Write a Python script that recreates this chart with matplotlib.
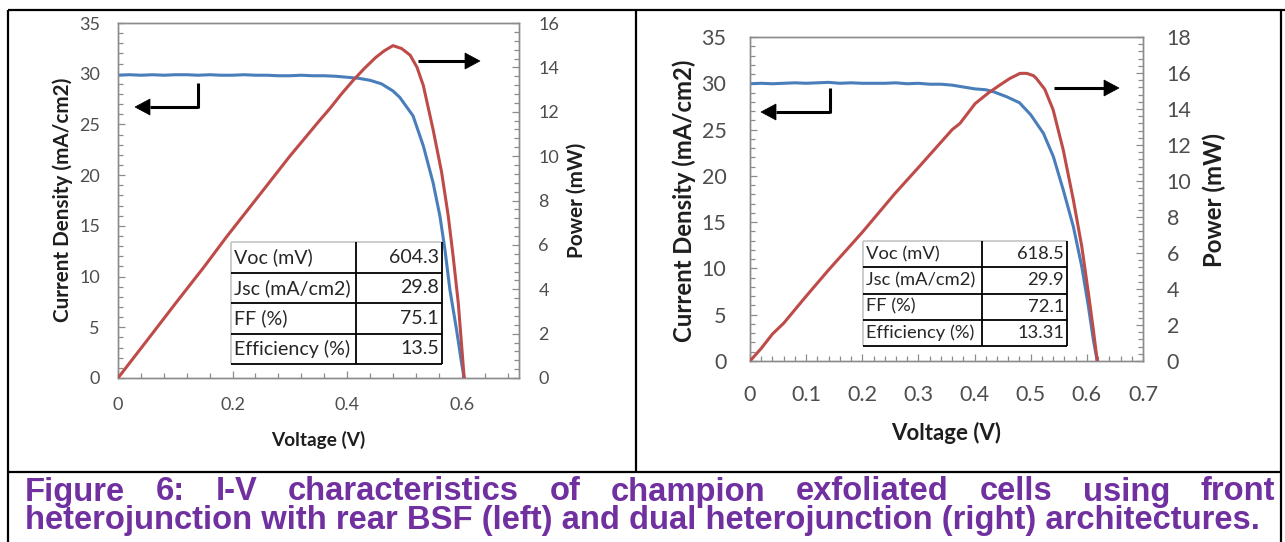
import matplotlib
matplotlib.use('Agg')
import matplotlib.pyplot as plt
from matplotlib import font_manager
from matplotlib.lines import Line2D
from matplotlib.patches import Polygon, Rectangle
from matplotlib.ticker import MultipleLocator, FuncFormatter

# ---------------- data ----------------
# Left chart: front heterojunction with rear BSF
left_v_j = [0, 0.02, 0.04, 0.06, 0.08, 0.10, 0.12, 0.14, 0.16, 0.18, 0.20, 0.22, 0.24,
            0.26, 0.28, 0.30, 0.32, 0.34, 0.36, 0.38, 0.40, 0.42, 0.44, 0.46, 0.48,
            0.492, 0.515, 0.533, 0.55, 0.562, 0.5707, 0.5794, 0.591, 0.5998, 0.6043]
left_j = [29.85, 29.9, 29.85, 29.9, 29.85, 29.9, 29.9, 29.85, 29.9, 29.85, 29.85, 29.9, 29.85,
          29.85, 29.8, 29.8, 29.85, 29.8, 29.8, 29.75, 29.65, 29.55, 29.35, 29.0, 28.3,
          27.66, 25.85, 22.88, 19.26, 15.95, 12.66, 8.7, 4.75, 1.45, 0.0]
left_v_p = [0, 0.05, 0.10, 0.15, 0.19, 0.25, 0.30, 0.35, 0.37, 0.39, 0.41, 0.43, 0.45,
            0.465, 0.48, 0.495, 0.51, 0.522, 0.533, 0.55, 0.565, 0.5765, 0.585, 0.594, 0.6043]
left_p = [0, 1.67, 3.35, 5.0, 6.38, 8.35, 10.0, 11.55, 12.15, 12.8, 13.4, 13.95, 14.45,
          14.75, 14.98, 14.85, 14.55, 14.0, 13.18, 11.2, 9.26, 7.3, 5.49, 3.38, 0.0]
left_table_labels = ["Voc (mV)", "Jsc (mA/cm2)", "FF (%)", "Efficiency (%)"]
left_table_values = ["604.3", "29.8", "75.1", "13.5"]

# Right chart: dual heterojunction
right_v_j = [0, 0.02, 0.04, 0.06, 0.08, 0.10, 0.12, 0.14, 0.16, 0.18, 0.20, 0.22, 0.24,
             0.26, 0.28, 0.30, 0.32, 0.34, 0.36, 0.38, 0.40, 0.42, 0.433, 0.457, 0.48,
             0.50, 0.5226, 0.5404, 0.558, 0.576, 0.591, 0.6028, 0.6116, 0.6185]
right_j = [29.95, 30.0, 29.95, 30.0, 30.05, 30.0, 30.05, 30.1, 30.0, 30.05, 30.0, 30.0, 30.0,
           30.05, 29.95, 30.0, 29.9, 29.9, 29.8, 29.6, 29.4, 29.3, 29.1, 28.55, 27.9,
           26.6, 24.6, 22.07, 18.47, 14.5, 10.19, 5.87, 2.27, 0.0]
right_v_p = [0, 0.02, 0.04, 0.06, 0.08, 0.10, 0.14, 0.20, 0.258, 0.30, 0.33, 0.36, 0.374,
             0.401, 0.425, 0.445, 0.463, 0.481, 0.493, 0.505, 0.51, 0.525, 0.54, 0.558,
             0.576, 0.591, 0.6028, 0.6116, 0.6185]
right_p = [0, 0.7, 1.5, 2.1, 2.85, 3.6, 5.06, 7.15, 9.3, 10.75, 11.8, 12.85, 13.2,
           14.3, 14.9, 15.33, 15.7, 15.98, 15.98, 15.85, 15.7, 15.1, 13.95, 11.72,
           8.94, 6.35, 3.76, 1.72, 0.0]
right_table_labels = ["Voc (mV)", "Jsc (mA/cm2)", "FF (%)", "Efficiency (%)"]
right_table_values = ["618.5", "29.9", "72.1", "13.31"]

x_label = "Voltage (V)"
y_label = "Current Density (mA/cm2)"
y2_label = "Power (mW)"
caption_1 = "Figure 6: I-V characteristics of champion exfoliated cells using front"
caption_2 = "heterojunction with rear BSF (left) and dual heterojunction (right) architectures."

# ---------------- styling ----------------
BLUE = "#4A7EBB"
RED = "#BE4B48"
FRAME = "#8C8C8C"
TICKTXT = "#4D4D4D"
TXT = "#1E1E1E"
PURPLE = "#7030A0"
FONT = "Lato"
_names = {f.name for f in font_manager.fontManager.ttflist}
CAP_FONT = "Liberation Sans Narrow" if "Liberation Sans Narrow" in _names else "Liberation Sans"

W, H = 1285, 542
fig = plt.figure(figsize=(W / 100, H / 100), dpi=100)
renderer = fig.canvas.get_renderer()


def fx(x):
    return x / W


def fy(y):
    return 1 - y / H


def text_width(s, size, **kw):
    t = fig.text(0, 0, s, fontsize=size, **kw)
    w = t.get_window_extent(renderer).width
    t.remove()
    return w


def fit_size(s, target, **kw):
    return 20 * target / text_width(s, 20, **kw)


def add_axes_px(x0, y0, x1, y1):
    return fig.add_axes([fx(x0), fy(y1), (x1 - x0) / W, (y1 - y0) / H])


def fmt(v, pos):
    return "%g" % round(v, 3)


def draw_chart(box, vj, jj, vp, pp, pmax, xmajor, xminor, tick_fs, pad_l, pad_b, pad_r):
    ax = add_axes_px(*box)
    ax.plot(vj, jj, color=BLUE, lw=2.2, solid_joinstyle='round', zorder=3)
    ax.set_xlim(0, 0.7)
    ax.set_ylim(0, 35)
    ax2 = ax.twinx()
    ax2.plot(vp, pp, color=RED, lw=2.2, solid_joinstyle='round', zorder=3)
    ax2.set_ylim(0, pmax)
    ax.xaxis.set_major_locator(MultipleLocator(xmajor))
    ax.xaxis.set_minor_locator(MultipleLocator(xminor))
    ax.yaxis.set_major_locator(MultipleLocator(5))
    ax.yaxis.set_minor_locator(MultipleLocator(1))
    ax2.yaxis.set_major_locator(MultipleLocator(2))
    ax2.yaxis.set_minor_locator(MultipleLocator(0.4))
    ax.xaxis.set_major_formatter(FuncFormatter(fmt))
    for a in (ax, ax2):
        for s in a.spines.values():
            s.set_color(FRAME)
            s.set_linewidth(1.0)
        a.tick_params(which='both', direction='in', color=FRAME, width=0.9,
                      labelsize=tick_fs, labelcolor=TICKTXT)
        a.tick_params(which='major', length=5)
        a.tick_params(which='minor', length=3.5)
    ax.tick_params(axis='x', which='both', top=False, pad=pad_b)
    ax.tick_params(axis='y', which='both', right=False, pad=pad_l)
    ax2.tick_params(axis='y', which='both', left=False, pad=pad_r)
    for a in (ax, ax2):
        for lab in a.get_xticklabels() + a.get_yticklabels():
            lab.set_family(FONT)
    return ax, ax2


draw_chart((118, 23, 519, 378), left_v_j, left_j, left_v_p, left_p, 16,
           0.2, 0.04, 13, 13, 14, 14)
draw_chart((750, 37, 1143, 361), right_v_j, right_j, right_v_p, right_p, 18,
           0.1, 0.02, 15.5, 17, 17, 17)

# ---------------- axis titles ----------------
def axis_title(s, cx, cy, length, rot):
    size = fit_size(s, length, family=FONT, weight='bold')
    fig.text(fx(cx), fy(cy), s, fontsize=size, family=FONT, weight='bold', color=TXT,
             rotation=rot, ha='center', va='center')


axis_title(y_label, 63, 200, 244, 90)
axis_title(y2_label, 577, 200, 115, 90)
axis_title(x_label, 318, 440, 94, 0)
axis_title(y_label, 684, 201, 282, 90)
axis_title(y2_label, 1214, 200, 134, 90)
axis_title(x_label, 946, 433, 110, 0)

# ---------------- tables ----------------
def line_px(x0, y0, x1, y1, color='black', lw=1.3, z=6):
    fig.add_artist(Line2D([fx(x0), fx(x1)], [fy(y0), fy(y1)], color=color, lw=lw,
                          transform=fig.transFigure, zorder=z, solid_capstyle='butt'))


def draw_table(x0, x1, xd, y0, y1, labels, values, fit_px):
    fig.add_artist(Rectangle((fx(x0), fy(y1)), (x1 - x0) / W, (y1 - y0) / H,
                             transform=fig.transFigure, facecolor='white',
                             edgecolor='none', zorder=5))
    n = len(labels)
    rh = (y1 - y0) / n
    line_px(x0, y0, x1, y0, color='#C8C8C8')
    line_px(x0, y0, x0, y1, color='#C8C8C8')
    line_px(x1, y0, x1, y1)
    line_px(x0, y1, x1, y1)
    line_px(xd, y0, xd, y1)
    for i in range(1, n):
        line_px(x0, y0 + i * rh, x1, y0 + i * rh)
    size = fit_size(labels[-1], fit_px, family=FONT)
    for i, (lab, val) in enumerate(zip(labels, values)):
        cy = y0 + (i + 0.5) * rh
        fig.text(fx(x0 + 3), fy(cy), lab, fontsize=size, family=FONT, color='#262626',
                 ha='left', va='center', zorder=7)
        fig.text(fx(x1 - 3), fy(cy), val, fontsize=size, family=FONT, color='#262626',
                 ha='right', va='center', zorder=7)


draw_table(231, 442, 356, 242, 364, left_table_labels, left_table_values, 116)
draw_table(863, 1067, 982, 241, 346, right_table_labels, right_table_values, 109)

# ---------------- arrows ----------------
def arrow_px(tip_x, y, tail_x, head_len=15, half_h=8, lw=2.2):
    d = 1 if tail_x > tip_x else -1
    base = tip_x + d * head_len
    line_px(tail_x, y, base, y, lw=lw, z=6)
    fig.add_artist(Polygon([(fx(tip_x), fy(y)), (fx(base), fy(y - half_h)),
                            (fx(base), fy(y + half_h))], closed=True,
                           transform=fig.transFigure, facecolor='black',
                           edgecolor='black', lw=0.5, zorder=6))


line_px(198, 83, 198, 107.5, lw=2.2)
arrow_px(135, 107, 198)
arrow_px(480, 61, 418)
line_px(830, 88, 830, 112.5, lw=2.2)
arrow_px(761, 112, 830)
arrow_px(1119, 88, 1054)

# ---------------- frame (document table borders) ----------------
line_px(8, 10, 1285, 10, lw=1.6)
line_px(8, 10, 8, 542, lw=1.6)
line_px(1281, 10, 1281, 542, lw=1.6)
line_px(636, 10, 636, 472, lw=1.6)
line_px(8, 472, 1281, 472, lw=1.6)

# ---------------- caption ----------------
cap_kw = dict(family=CAP_FONT, weight='bold', color=PURPLE)
cap_size = fit_size(caption_2, 1237, family=CAP_FONT, weight='bold')
fig.text(fx(25), fy(529.5), caption_2, fontsize=cap_size, ha='left', va='baseline', **cap_kw)
words = caption_1.split()
widths = [text_width(w, cap_size, family=CAP_FONT, weight='bold') for w in words]
gap = (1275 - 25 - sum(widths)) / (len(words) - 1)
x = 25
for w, wd in zip(words, widths):
    fig.text(fx(x), fy(500.5), w, fontsize=cap_size, ha='left', va='baseline', **cap_kw)
    x += wd + gap

fig.savefig("out.png", dpi=100)
